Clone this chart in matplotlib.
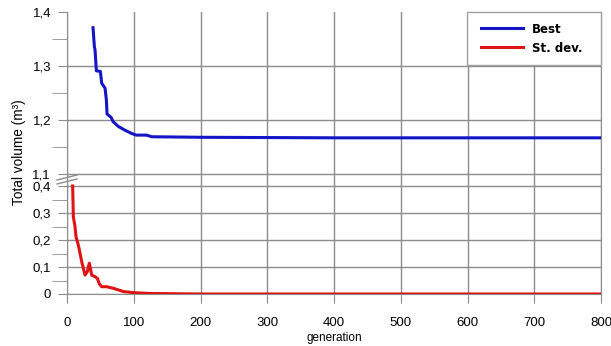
import numpy as np
import matplotlib
matplotlib.use('Agg')
import matplotlib.pyplot as plt
from matplotlib.lines import Line2D
from matplotlib.patches import Rectangle
from matplotlib.ticker import FuncFormatter

best_gen = [39, 41, 42, 44, 50, 52, 57, 59, 60, 66, 69, 77, 87, 97, 104, 119, 127, 200, 400, 800]
best_val = [1.371, 1.336, 1.330, 1.291, 1.290, 1.268, 1.259, 1.237, 1.211, 1.205, 1.197,
            1.188, 1.181, 1.175, 1.172, 1.172, 1.169, 1.168, 1.167, 1.167]
sd_gen = [8.5, 9.5, 12, 13.5, 17, 19.5, 22, 24.5, 27, 30.5, 32, 33.5, 35.5, 37, 42, 45.5,
          48.5, 52, 59.5, 69.5, 84.5, 99.5, 124, 199, 800]
sd_val = [0.40, 0.286, 0.249, 0.212, 0.181, 0.151, 0.12, 0.095, 0.070, 0.083, 0.101, 0.114,
          0.089, 0.070, 0.064, 0.058, 0.037, 0.027, 0.027, 0.021, 0.009, 0.005, 0.002, 0.0, 0.0]
x_ticks = [0, 100, 200, 300, 400, 500, 600, 700, 800]
y_major = [0, 0.1, 0.2, 0.3, 0.4, 1.1, 1.2, 1.3, 1.4]
y_minor = [0.05, 0.15, 0.25, 0.35, 1.15, 1.25, 1.35]

# broken y axis: 0..0.4 squeezed, 1.1..1.4 stretched
brk_in = [0, 0.4, 1.1, 1.4]
brk_out = [0, 108, 120, 282]


def fwd(y):
    return np.interp(y, brk_in, brk_out)


def inv(v):
    return np.interp(v, brk_out, brk_in)


plt.rcParams['font.family'] = ['Liberation Sans', 'DejaVu Sans']
grid_c = '#8c8c8c'

fig = plt.figure(figsize=(6.11, 3.46), dpi=100)
ax = fig.add_axes([67 / 611, 1 - 294 / 346, 534 / 611, 282 / 346])
ax.set_yscale('function', functions=(fwd, inv))

ax.plot(best_gen, best_val, color='#1414c8', lw=2.2, label='Best', zorder=3)
ax.plot(sd_gen, sd_val, color='#e01212', lw=2.2, label='St. dev.', zorder=3)

ax.set_xlim(0, 800)
ax.set_ylim(0, 1.4)
ax.set_xticks(x_ticks)
ax.set_yticks(y_major)
ax.set_yticks(y_minor, minor=True)
ax.yaxis.set_major_formatter(FuncFormatter(lambda v, p: ('%g' % round(v, 2)).replace('.', ',')))

ax.grid(True, which='major', color=grid_c, lw=1)
ax.yaxis.get_gridlines()[-1].set_visible(False)
ax.tick_params(axis='y', which='major', length=6.5, color=grid_c, labelsize=9.5, pad=5)
ax.tick_params(axis='y', which='minor', length=10.5, color=grid_c)
ax.tick_params(axis='x', length=6.5, color=grid_c, labelsize=9.5, pad=10)
for s in ['left', 'bottom', 'right']:
    ax.spines[s].set_color(grid_c)
ax.spines['top'].set_visible(False)

ax.set_xlabel('generation', fontsize=8.5)
ax.xaxis.set_label_coords(0.5, -0.135)
ax.set_ylabel('Total volume (m³)', fontsize=9.8)
ax.yaxis.set_label_coords(-41 / 534, 0.504)

# legend box in the top right cell
ax.add_patch(Rectangle((0.749, 0.812), 0.251, 0.188, transform=ax.transAxes,
                       facecolor='white', edgecolor='#a0a0a0', lw=1, zorder=4, clip_on=False))
leg = ax.legend(loc='upper left', bbox_to_anchor=(0.755, 1.0), frameon=False,
                prop={'family': 'DejaVu Sans', 'weight': 'bold', 'size': 8.5},
                handlelength=3.6, handletextpad=0.7, labelspacing=0.5)
leg.set_zorder(5)

# break marks on the left axis
for dy in [0, 4]:
    fig.add_artist(Line2D([57 / 611, 77 / 611], [1 - (184 - dy) / 346, 1 - (179 - dy) / 346],
                          color=grid_c, lw=1))

fig.savefig('out.png', dpi=100)
